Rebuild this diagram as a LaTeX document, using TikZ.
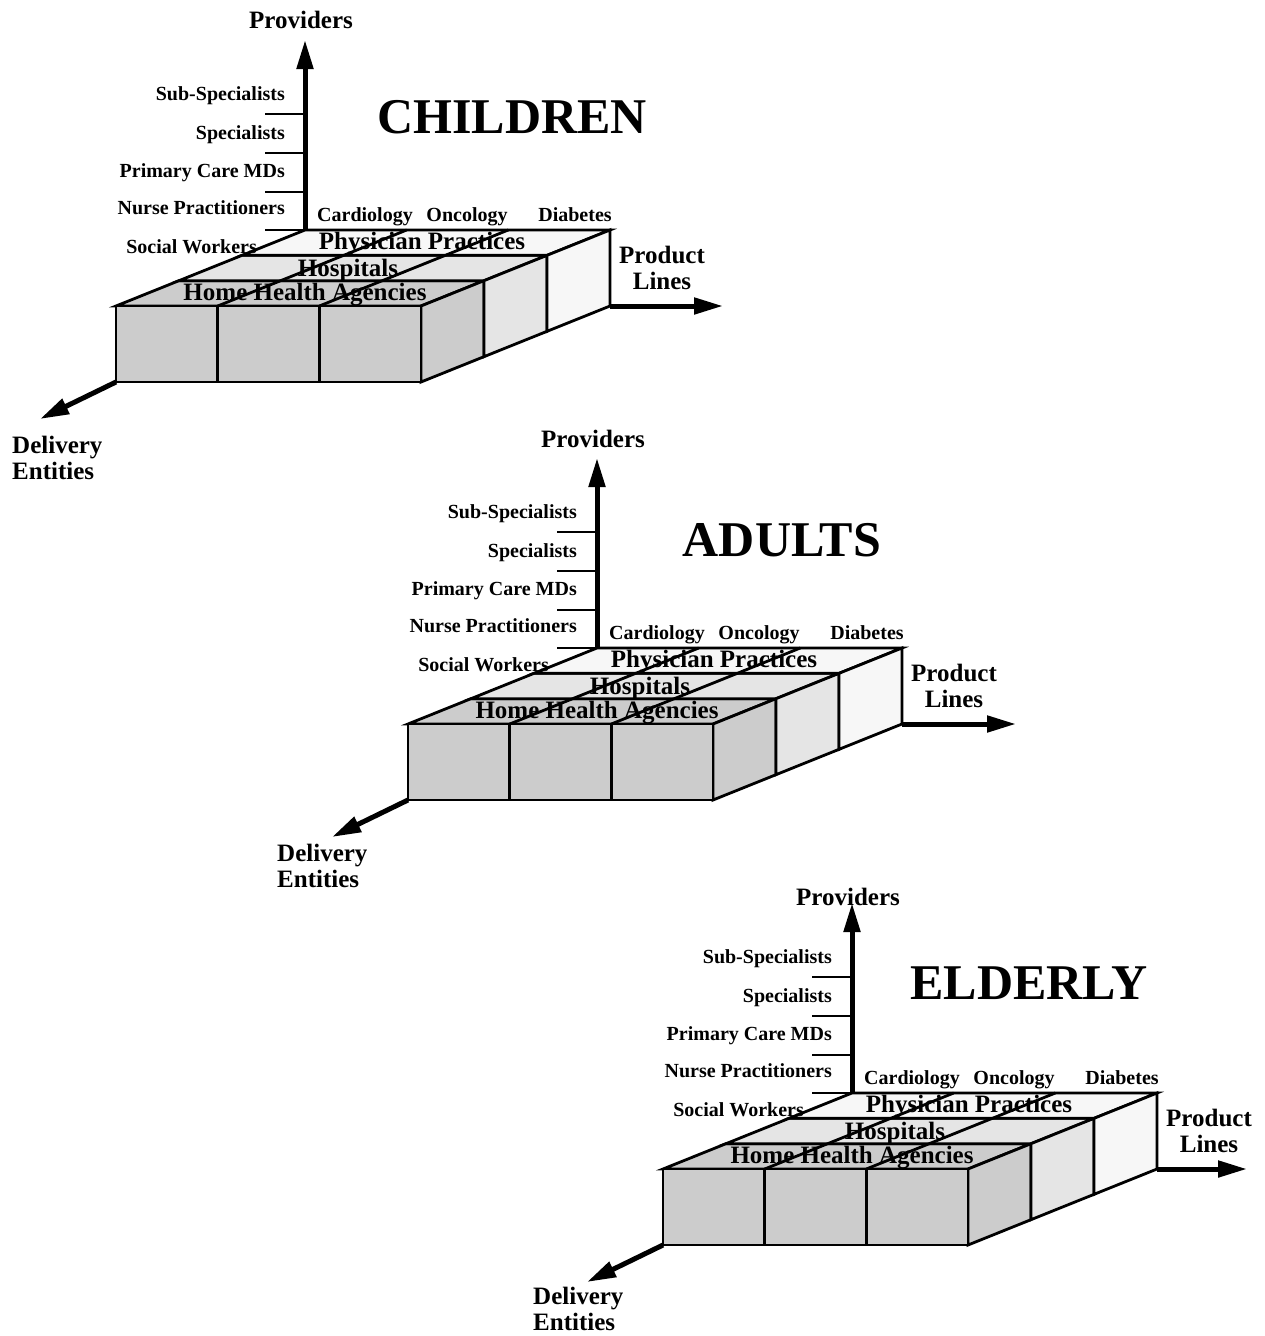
\documentclass[tikz,border=0pt]{standalone}
\usepackage{fontspec}
\setmainfont{Liberation Serif}
\usetikzlibrary{arrows.meta}
\definecolor{shadefront}{gray}{0.8}
\definecolor{shademid}{gray}{0.9}
\definecolor{shadeback}{gray}{0.97}
\tikzset{
  boxline/.style={draw=black,line width=2.8pt},
  axisarrow/.style={line width=5pt,-{Triangle[length=29pt,width=16pt]}},
  ticklabel/.style={font=\fontsize{20}{22}\selectfont\bfseries,inner sep=0pt},
  axislabel/.style={font=\fontsize{25}{26}\selectfont\bfseries,inner sep=0pt,align=center},
  grouptitle/.style={font=\fontsize{50}{54}\selectfont\bfseries,inner sep=0pt}
}
\begin{document}
\begin{tikzpicture}[x=1pt,y=-1pt]
\useasboundingbox (0,0) rectangle (1265,1336);
\foreach \b/\bx/\by/\group/\gx/\gy/\dx/\dy/\py/\px in
  {1/305/230/CHILDREN/207/-113/-293/228/-202/418,
   2/597/648/ADULTS/185/-108/-320/218/-201/419,
   3/852/1093/ELDERLY/177/-110/-319/216/-188/395}{
\begin{scope}[shift={(\bx,\by)}]
\coordinate (o\b) at (0,0);
\coordinate (brb\b) at (305,76);
\coordinate (pltip\b) at (\px,76);
\coordinate (flb\b) at (-189,152);
\coordinate (dtip\b) at (-265,189);
\coordinate (ptip\b) at (0,-190);

% top and right faces, one strip per row
\foreach \k/\c in {0/shadefront,1/shademid,2/shadeback}{
  \filldraw[boxline,fill=\c,shift={({63*\k},{-25.333*\k})}]
    (-189,76) -- (116,76) -- (179,50.667) -- (-126,50.667) -- cycle;
  \filldraw[boxline,fill=\c,shift={({63*\k},{-25.333*\k})}]
    (116,76) -- (179,50.667) -- (179,126.667) -- (116,152) -- cycle;
}
\filldraw[boxline,fill=shadefront] (-189,76) rectangle (116,152);
\draw[boxline] (-87.3,76) -- (-87.3,152) (14.3,76) -- (14.3,152);
\draw[boxline] (-87.3,76) -- (101.7,0) (14.3,76) -- (203.3,0);

\foreach \t in {0,-38,-77,-116}
  \draw[boxline] (-40,\t) -- (0,\t);
\draw[axisarrow] (o\b) -- (ptip\b);
\draw[axisarrow] (brb\b) -- (pltip\b);
\draw[axisarrow] (flb\b) -- (dtip\b);

\node[axislabel,anchor=base] (prov\b) at (-4,\py) {Providers};
\node[ticklabel,anchor=base east] (subspec\b) at (-20,-130) {Sub-Specialists};
\node[ticklabel,anchor=base east] (spec\b) at (-20,-91) {Specialists};
\node[ticklabel,anchor=base east] (pcmd\b) at (-20,-53) {Primary Care MDs};
\node[ticklabel,anchor=base east] (nurse\b) at (-20,-16) {Nurse Practitioners};
\node[ticklabel,anchor=base east] (social\b) at (-48,23) {Social Workers};
\node[ticklabel,anchor=base] (card\b) at (60,-9) {Cardiology};
\node[ticklabel,anchor=base] (onco\b) at (162,-9) {Oncology};
\node[ticklabel,anchor=base] (diab\b) at (270,-9) {Diabetes};
\node[axislabel,anchor=base] (phys\b) at (117,19) {Physician Practices};
\node[axislabel,anchor=base] (hosp\b) at (43,46) {Hospitals};
\node[axislabel,anchor=base] (home\b) at (0,70) {Home Health Agencies};
\node[axislabel] (prod\b) at (357,38) {Product\\Lines};
\node[axislabel,align=left,anchor=west] (deliv\b) at (\dx,\dy) {Delivery\\Entities};
\node[grouptitle] (title\b) at (\gx,\gy) {\group};
\end{scope}
}
\end{tikzpicture}
\end{document}
